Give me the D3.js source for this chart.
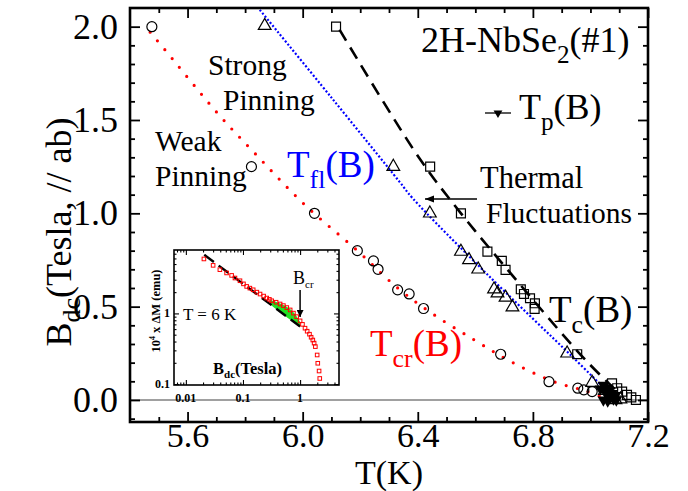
<!DOCTYPE html>
<html><head><meta charset="utf-8">
<script src="https://cdn.jsdelivr.net/npm/d3@7"></script>
<style>
body{margin:0;background:#fff}
svg text{font-family:"Liberation Serif","Times New Roman",serif;fill:#000}
</style></head>
<body><svg id="c" width="688" height="491"></svg>
<script>
// ---------------- data (main panel: [T (K), B (Tesla)]) ----------------
const tcrCircles = [[5.476,2.0],[5.822,1.25],[6.041,1.0],[6.19,0.8],[6.246,0.745],[6.262,0.70],[6.33,0.59],[6.37,0.568],[6.42,0.49],[6.688,0.245],[6.856,0.098],[6.956,0.063],[6.977,0.054],[7.006,0.045]];
const tcrLine = [[5.47,1.97],[5.516,1.886],[5.706,1.533],[5.833,1.323],[6.007,1.046],[6.19,0.80],[6.33,0.60],[6.457,0.456],[6.596,0.322],[6.723,0.206],[6.873,0.098],[6.98,0.05],[7.05,0.01]];
const tflTriangles = [[5.868,2.005],[6.315,1.25],[6.442,1.0],[6.55,0.795],[6.578,0.75],[6.61,0.70],[6.665,0.593],[6.677,0.572],[6.705,0.549],[6.729,0.497],[6.919,0.25],[7.006,0.093],[7.05,0.05],[7.087,0.0],[7.104,0.004]];
const tflLine = [[5.851,2.09],[6.10,1.62],[6.336,1.17],[6.382,1.081],[6.65,0.66],[6.937,0.232],[7.04,0.075]];
const tcSquares = [[6.116,2.0],[6.443,1.25],[6.55,1.0],[6.642,0.795],[6.692,0.745],[6.705,0.697],[6.758,0.593],[6.769,0.568],[6.79,0.545],[6.807,0.518],[6.806,0.488],[6.954,0.245],[7.075,0.089],[7.093,0.063],[7.11,0.045],[7.127,0.027],[7.142,0.014],[7.158,0.0]];
const tcLine = [[6.128,1.984],[6.405,1.296],[6.55,1.0],[6.70,0.72],[6.983,0.214],[7.104,0.03]];
const tpTriangles = [[7.035,0.06],[7.045,0.08],[7.05,0.045],[7.055,0.065],[7.06,0.03],[7.065,0.05],[7.07,0.015],[7.075,0.035],[7.08,0.005],[7.045,0.0],[7.06,-0.005],[7.085,0.02],[7.09,0.0]];
// ---------------- data (inset: [B (Tesla), 10^4 x dM (emu)]) ----------------
const insetB = [0.0207,0.030,0.0394,0.0517,0.0633,0.0724,0.0886,0.102,0.116,0.132,0.151,0.175,0.199,0.23,0.26,0.29,0.318,0.38,0.447,0.51,0.585,0.67,0.764,0.87,1.0,1.1,1.22,1.33,1.46,1.56,1.67,1.76,1.85,1.99,2.04,2.15,2.21];
const insetM = [5.9,4.79,4.16,3.74,3.45,3.17,2.90,2.62,2.41,2.28,2.16,2.0,1.88,1.76,1.65,1.58,1.51,1.44,1.36,1.29,1.21,1.12,1.01,0.90,0.785,0.70,0.618,0.56,0.508,0.46,0.42,0.38,0.339,0.258,0.197,0.153,0.12];
const fitB = [0.021,1.0];
const fitM = [6.75,0.652];
const greenB = [0.3,0.45,0.6,0.8,1.0];
const greenHi = [1.55,1.38,1.22,1.0,0.76];
const greenLo = [1.34,1.04,0.87,0.74,0.66];
// ---------------- tick labels ----------------
const xMajor = [5.6,6.0,6.4,6.8,7.2];
const xMinor = [5.5,5.7,5.8,5.9,6.1,6.2,6.3,6.5,6.6,6.7,6.9,7.0,7.1];
const yMajor = [0.0,0.5,1.0,1.5,2.0];
const yMinor = [-0.1,0.1,0.2,0.3,0.4,0.6,0.7,0.8,0.9,1.1,1.2,1.3,1.4,1.6,1.7,1.8,1.9];
const ixMajor = [0.01,0.1,1];
const ixLabels = ["0.01","0.1","1"];
const iyMajor = [0.1,1];
const iyLabels = ["0.1","1"];

// ---------------- drawing ----------------
const svg = d3.select("#c");
const FONT = '"Liberation Serif","Times New Roman",serif';
const L=130,R=648,T=8,B=422;
const x = d3.scaleLinear().domain([5.4,7.2]).range([L,R]);
const y = d3.scaleLinear().domain([-0.118,2.1]).range([B,T]);
const defs = svg.append("defs");
defs.append("clipPath").attr("id","clipMain").append("rect").attr("x",L).attr("y",T).attr("width",R-L).attr("height",B-T);
const plot = svg.append("g").attr("clip-path","url(#clipMain)");

plot.append("line").attr("x1",L).attr("x2",R).attr("y1",y(0)).attr("y2",y(0))
  .attr("stroke","#808080").attr("stroke-width",1.6);

const line = d3.line().x(d=>x(d[0])).y(d=>y(d[1])).curve(d3.curveCatmullRom.alpha(0.5));
plot.append("path").datum(tcrLine).attr("d",line).attr("fill","none").attr("stroke","#ff0000")
  .attr("stroke-width",3.2).attr("stroke-linecap","round").attr("stroke-dasharray","0,11.5");
plot.append("path").datum(tflLine).attr("d",line).attr("fill","none").attr("stroke","#0000ff")
  .attr("stroke-width",2.2).attr("stroke-dasharray","2,2");
plot.append("path").datum(tcLine).attr("d",line).attr("fill","none").attr("stroke","#000")
  .attr("stroke-width",2.6).attr("stroke-dasharray","13,8");

plot.selectAll(".circ").data(tcrCircles).join("circle").attr("cx",d=>x(d[0])).attr("cy",d=>y(d[1]))
  .attr("r",5).attr("fill","none").attr("stroke","#000").attr("stroke-width",1.2);
const sq = d3.symbol().type(d3.symbolSquare).size(80);
plot.selectAll(".sq").data(tcSquares).join("path").attr("d",sq)
  .attr("transform",d=>`translate(${x(d[0])},${y(d[1])})`).attr("fill","none").attr("stroke","#000").attr("stroke-width",1.2);
const tri = d3.symbol().type(d3.symbolTriangle).size(70);
plot.selectAll(".tri").data(tflTriangles).join("path").attr("d",tri)
  .attr("transform",d=>`translate(${x(d[0])},${y(d[1])})`).attr("fill","none").attr("stroke","#000").attr("stroke-width",1.2);
const dtri = d3.symbol().type(d3.symbolTriangle).size(60);
plot.selectAll(".dtri").data(tpTriangles).join("path").attr("d",dtri)
  .attr("transform",d=>`translate(${x(d[0])},${y(d[1])}) rotate(180)`).attr("fill","#000");

// axes
function axis(gen, tr, vals, size, fmt, pad, fs){
  const g = svg.append("g").attr("transform",tr)
    .call(gen.tickValues(vals).tickSize(size).tickFormat(fmt).tickPadding(pad||3));
  g.select(".domain").remove();
  g.attr("font-family",FONT).attr("font-size",fs||35);
  g.selectAll("line").attr("stroke","#000").attr("stroke-width",1.8);
  g.selectAll("text").attr("fill","#000");
  return g;
}
const f1 = d3.format(".1f");
axis(d3.axisBottom(x), `translate(0,${B})`, xMajor, -10, f1, 1, 34);
axis(d3.axisBottom(x), `translate(0,${B})`, xMinor, -5, "");
axis(d3.axisTop(x), `translate(0,${T})`, xMajor, -10, "");
axis(d3.axisTop(x), `translate(0,${T})`, xMinor, -5, "");
axis(d3.axisLeft(y), `translate(${L},0)`, yMajor, -10, f1, 12, 36);
axis(d3.axisLeft(y), `translate(${L},0)`, yMinor, -5, "");
axis(d3.axisRight(y), `translate(${R},0)`, yMajor, -10, "");
axis(d3.axisRight(y), `translate(${R},0)`, yMinor, -5, "");
svg.append("rect").attr("x",L).attr("y",T).attr("width",R-L).attr("height",B-T)
  .attr("fill","none").attr("stroke","#000").attr("stroke-width",2.6);

// ---------------- inset ----------------
const IL=174,IR=339,IT=250,IB=385;
const ix = d3.scaleLog().domain([0.0062,4.8]).range([IL,IR]);
const iy = d3.scaleLog().domain([0.097,7.9]).range([IB,IT]);
svg.append("rect").attr("x",IL).attr("y",IT).attr("width",IR-IL).attr("height",IB-IT).attr("fill","#fff");
const inset = svg.append("g");
const area = d3.area().x((d,i)=>ix(greenB[i])).y0((d,i)=>iy(greenLo[i])).y1((d,i)=>iy(greenHi[i])).curve(d3.curveMonotoneX);
inset.append("path").datum(greenB).attr("d",area).attr("fill","#22e022");
inset.append("path").datum(fitB.map((b,i)=>[b,fitM[i]])).attr("d",d3.line().x(d=>ix(d[0])).y(d=>iy(d[1])))
  .attr("stroke","#000").attr("stroke-width",2.4).attr("stroke-dasharray","12,6").attr("fill","none");
inset.selectAll(".rs").data(insetB).join("rect").attr("x",d=>ix(d)-1.8).attr("y",(d,i)=>iy(insetM[i])-1.8)
  .attr("width",3.6).attr("height",3.6).attr("fill","none").attr("stroke","#ff0000").attr("stroke-width",1);

function minors(dom){const out=[];for(let e=-3;e<=1;e++){for(let k=2;k<=9;k++){const v=k*Math.pow(10,e);if(v>dom[0]&&v<dom[1])out.push(v);}}return out;}
function iaxis(gen, tr, vals, size){
  const g = svg.append("g").attr("transform",tr).call(gen.tickValues(vals).tickSize(size).tickFormat(""));
  g.select(".domain").remove(); g.selectAll("line").attr("stroke","#000").attr("stroke-width",1.1);
}
iaxis(d3.axisBottom(ix),`translate(0,${IB})`,ixMajor,-5);
iaxis(d3.axisBottom(ix),`translate(0,${IB})`,minors(ix.domain()),-2.5);
iaxis(d3.axisTop(ix),`translate(0,${IT})`,ixMajor,-5);
iaxis(d3.axisTop(ix),`translate(0,${IT})`,minors(ix.domain()),-2.5);
iaxis(d3.axisLeft(iy),`translate(${IL},0)`,iyMajor,-5);
iaxis(d3.axisLeft(iy),`translate(${IL},0)`,minors(iy.domain()),-2.5);
iaxis(d3.axisRight(iy),`translate(${IR},0)`,iyMajor,-5);
iaxis(d3.axisRight(iy),`translate(${IR},0)`,minors(iy.domain()),-2.5);
svg.append("rect").attr("x",IL).attr("y",IT).attr("width",IR-IL).attr("height",IB-IT)
  .attr("fill","none").attr("stroke","#000").attr("stroke-width",1.6);
svg.selectAll(".ixl").data(ixMajor).join("text").attr("x",d=>ix(d)).attr("y",402)
  .attr("text-anchor","middle").attr("font-weight","bold").attr("font-size",12).text((d,i)=>ixLabels[i]);
svg.selectAll(".iyl").data(iyMajor).join("text").attr("x",IL-4).attr("y",d=>iy(d)+4)
  .attr("text-anchor","end").attr("font-weight","bold").attr("font-size",12).text((d,i)=>iyLabels[i]);
// inset y title
const iyt = svg.append("text").attr("transform","translate(160,311) rotate(-90)").attr("text-anchor","middle")
  .attr("font-weight","bold").attr("font-size",12.5);
iyt.append("tspan").text("10");
iyt.append("tspan").attr("font-size",8).attr("dy",-5).text("4");
iyt.append("tspan").attr("dy",5).text(" x ΔM (emu)");
// inset texts
svg.append("text").attr("x",183).attr("y",320).attr("font-size",17).text("T = 6 K");
const bcr = svg.append("text").attr("x",293).attr("y",284).attr("font-size",18);
bcr.append("tspan").text("B"); bcr.append("tspan").attr("font-size",11).attr("dy",4).text("cr");
const bdc = svg.append("text").attr("x",213).attr("y",374).attr("font-size",16.5).attr("font-weight","bold");
bdc.append("tspan").text("B"); bdc.append("tspan").attr("font-size",11).attr("dy",4).text("dc");
bdc.append("tspan").attr("dy",-4).text("(Tesla)");
defs.append("marker").attr("id","ah").attr("viewBox","0 0 10 10").attr("refX",10).attr("refY",5)
  .attr("markerWidth",7).attr("markerHeight",7).attr("markerUnits","userSpaceOnUse").attr("orient","auto")
  .append("path").attr("d","M0,0L10,5L0,10z").attr("fill","#000");
defs.append("marker").attr("id","ah2").attr("viewBox","0 0 10 10").attr("refX",10).attr("refY",5)
  .attr("markerWidth",9).attr("markerHeight",9).attr("markerUnits","userSpaceOnUse").attr("orient","auto")
  .append("path").attr("d","M0,1L10,5L0,9z").attr("fill","#000");
svg.append("line").attr("x1",ix(1)).attr("x2",ix(1)).attr("y1",290).attr("y2",317)
  .attr("stroke","#000").attr("stroke-width",1.5).attr("marker-end","url(#ah)");

// ---------------- main texts ----------------
function sub(xp,yp,size,main,s,rest,color){
  const t = svg.append("text").attr("x",xp).attr("y",yp).attr("font-size",size).attr("fill",color||"#000");
  t.append("tspan").attr("fill",color||"#000").text(main);
  t.append("tspan").attr("fill",color||"#000").attr("font-size",size*0.7).attr("dy",size*0.3).text(s);
  t.append("tspan").attr("fill",color||"#000").attr("dy",-size*0.3).text(rest);
  return t;
}
sub(421,52,36,"2H-NbSe","2","(#1)");
sub(519,119,36,"T","p","(B)");
svg.append("line").attr("x1",485).attr("x2",511).attr("y1",113).attr("y2",113).attr("stroke","#000").attr("stroke-width",1.3);
svg.append("path").attr("d",dtri).attr("transform","translate(498,113) rotate(180) scale(0.75)").attr("fill","#000");
svg.append("text").attr("x",208).attr("y",75).attr("font-size",29.5).text("Strong");
svg.append("text").attr("x",223).attr("y",110).attr("font-size",29.5).text("Pinning");
svg.append("text").attr("x",155).attr("y",151).attr("font-size",29.5).text("Weak");
svg.append("text").attr("x",155).attr("y",186).attr("font-size",29.5).text("Pinning");
sub(287,177,37,"T","fl","(B)","#0000ff");
sub(370,356,37,"T","cr","(B)","#ff0000");
sub(549,322,37,"T","c","(B)");
svg.append("text").attr("x",480).attr("y",188).attr("font-size",30.5).text("Thermal");
svg.append("text").attr("x",486).attr("y",223).attr("font-size",29.5).text("Fluctuations");
svg.append("line").attr("x1",477).attr("x2",425).attr("y1",199).attr("y2",199)
  .attr("stroke","#000").attr("stroke-width",1.3).attr("marker-end","url(#ah2)");
// axis titles
svg.append("text").attr("x",389).attr("y",484).attr("text-anchor","middle").attr("font-size",34).text("T(K)");
const yt = svg.append("text").attr("transform","translate(71,232) rotate(-90)").attr("text-anchor","middle").attr("font-size",36);
yt.append("tspan").text("B");
yt.append("tspan").attr("font-size",26).attr("dy",9).text("dc");
yt.append("tspan").attr("dy",-9).text("(Tesla, // ab)");
</script></body></html>
